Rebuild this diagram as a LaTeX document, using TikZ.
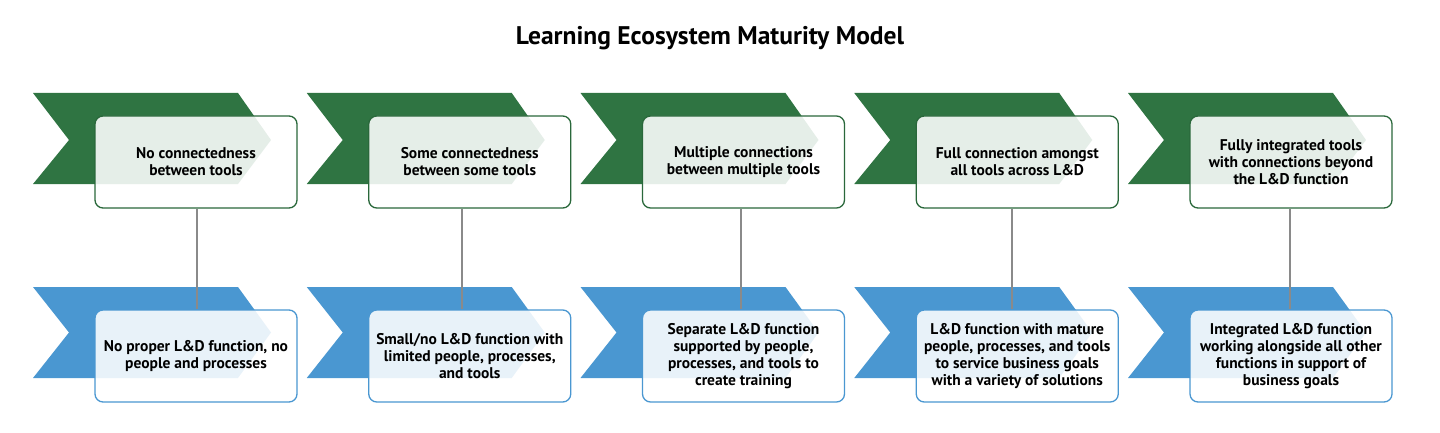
\documentclass[tikz,border=0pt]{standalone}
\usepackage{fontspec}
\setmainfont{PT Sans}
\definecolor{dgreen}{HTML}{2F7442}
\definecolor{lblue}{HTML}{4A97D1}
\definecolor{conngray}{HTML}{8A8A8A}
\tikzset{
  chevgreen/.style={fill=dgreen},
  chevblue/.style={fill=lblue},
  stagebox/.style={rounded corners=8pt, minimum width=202pt, minimum height=92pt,
    fill=white, fill opacity=0.88, text opacity=1, line width=1.3pt, align=center,
    inner sep=0pt, font=\bfseries\fontsize{15.5}{17}\selectfont, text=black},
  topbox/.style={stagebox, draw=dgreen!90!black},
  botbox/.style={stagebox, draw=lblue},
  conn/.style={draw=conngray, line width=2pt},
  titlestyle/.style={font=\bfseries\fontsize{25.5}{30}\selectfont}
}
\begin{document}
\begin{tikzpicture}[x=1pt,y=-1pt]
\useasboundingbox (0,0) rectangle (1440,433);
\node[titlestyle] (title) at (710,38) {Learning Ecosystem Maturity Model};
% chevrons
\foreach \k in {0,...,4}{
  \pgfmathsetmacro{\L}{33+\k*273.75}
  \fill[chevgreen] (\L,93) -- ++(205,0) -- ++(33,47) -- ++(-33,44) -- ++(-205,0) -- ++(36,-44) -- cycle;
  \fill[chevblue] (\L,287) -- ++(205,0) -- ++(33,45.5) -- ++(-33,45.5) -- ++(-205,0) -- ++(36,-45.5) -- cycle;
}
% boxes
\node[topbox] (t1) at (196,162) {No connectedness\\between tools};
\node[topbox] (t2) at (469.75,162) {Some connectedness\\between some tools};
\node[topbox] (t3) at (743.5,162) {Multiple connections\\between multiple tools};
\node[topbox] (t4) at (1017.25,162) {Full connection amongst\\all tools across L\&D};
\node[topbox] (t5) at (1291,162) {Fully integrated tools\\with connections beyond\\the L\&D function};
\node[botbox] (b1) at (196,356) {No proper L\&D function, no\\people and processes};
\node[botbox] (b2) at (469.75,356) {Small/no L\&D function with\\limited people, processes,\\and tools};
\node[botbox] (b3) at (743.5,356) {Separate L\&D function\\supported by people,\\processes, and tools to\\create training};
\node[botbox] (b4) at (1017.25,356) {L\&D function with mature\\people, processes, and tools\\to service business goals\\with a variety of solutions};
\node[botbox] (b5) at (1291,356) {Integrated L\&D function\\working alongside all other\\functions in support of\\business goals};
% connectors
\draw[conn] ([xshift=1pt]t1.south) -- ([xshift=1pt]b1.north);
\draw[conn] ([xshift=-7.75pt]t2.south) -- ([xshift=-7.75pt]b2.north);
\draw[conn] ([xshift=-2.5pt]t3.south) -- ([xshift=-2.5pt]b3.north);
\draw[conn] ([xshift=-5.25pt]t4.south) -- ([xshift=-5.25pt]b4.north);
\draw[conn] ([xshift=-1pt]t5.south) -- ([xshift=-1pt]b5.north);
\end{tikzpicture}
\end{document}
